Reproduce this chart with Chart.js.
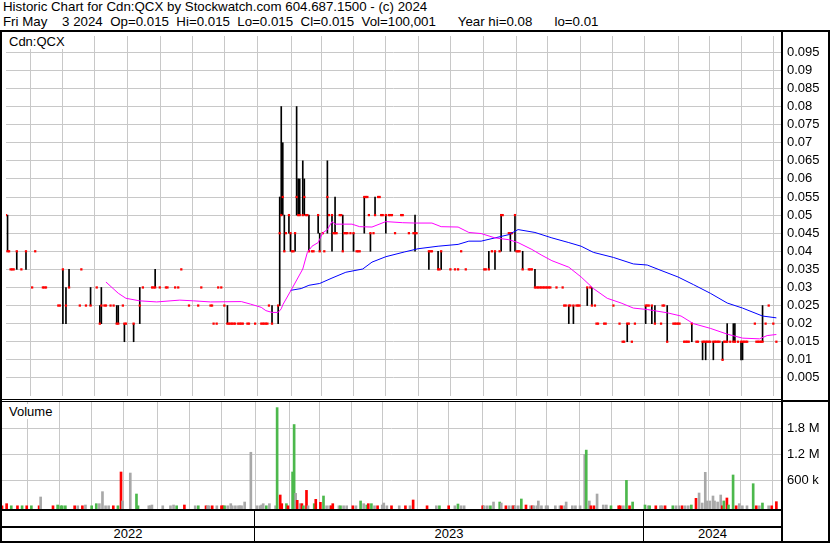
<!DOCTYPE html>
<html>
<head>
<meta charset="utf-8">
<script src="https://cdn.jsdelivr.net/npm/chart.js@4.4.1/dist/chart.umd.min.js"></script>
<style>
  body { margin: 0; background: #fff; }
  #wrap { position: relative; width: 830px; height: 543px; overflow: hidden;
          font-family: "Liberation Sans", Arial, sans-serif; font-size: 13px; color: #000; }
  .hdr { position: absolute; left: 3px; white-space: pre; line-height: 15px; font-size: 13.3px; }
  .ln { position: absolute; background: #000; }
  canvas { position: absolute; }
  .lbl { position: absolute; background: #fff; padding: 0 2px; line-height: 15px; }
  .yr { position: absolute; top: 527px; height: 14px; line-height: 14px; text-align: center; }
</style>
</head>
<body>
<div id="wrap">
  <div class="hdr" style="top:-1px">Historic Chart for Cdn:QCX by Stockwatch.com 604.687.1500 - (c) 2024</div>
  <div class="hdr" style="top:14px">Fri May    3 2024  Op=0.015  Hi=0.015  Lo=0.015  Cl=0.015  Vol=100,001      Year hi=0.08      lo=0.01</div>

  <canvas id="price" width="828" height="368" style="left:2px;top:32px"></canvas>
  <canvas id="volume" width="828" height="107" style="left:2px;top:402px"></canvas>

  <div class="lbl" style="left:7px;top:34px">Cdn:QCX</div>
  <div class="lbl" style="left:7px;top:404px">Volume</div>

  <div class="yr" id="y0" style="left:2px;width:252px"></div>
  <div class="yr" id="y1" style="left:255px;width:388px"></div>
  <div class="yr" id="y2" style="left:644px;width:137px"></div>

  <div class="ln" style="left:0;top:30px;width:830px;height:2px"></div>
  <div class="ln" style="left:0;top:30px;width:2px;height:513px"></div>
  <div class="ln" style="left:828px;top:30px;width:2px;height:513px"></div>
  <div class="ln" style="left:0;top:541px;width:830px;height:2px"></div>
  <div class="ln" style="left:781px;top:30px;width:2px;height:513px"></div>
  <div class="ln" style="left:0;top:399px;width:781px;height:1px"></div>
  <div class="ln" style="left:0;top:401px;width:781px;height:1px"></div>
  <div class="ln" style="left:781px;top:400px;width:49px;height:2px"></div>
  <div class="ln" style="left:0;top:509px;width:781px;height:2px"></div>
  <div class="ln" style="left:0;top:526px;width:781px;height:2px"></div>
  <div class="ln" style="left:254px;top:509px;width:1px;height:33px"></div>
  <div class="ln" style="left:643px;top:509px;width:1px;height:33px"></div>
</div>

<script>
// x values are trading-day numbers, day 0 = first session shown (May 2022)
const dayCount = 504
const monthTicks = [16.2, 36.9, 57.6, 78.9, 100.3, 121, 142.3, 163.7, 185.7, 205.1, 225.8, 246.5,
    268.5, 289.2, 310.6, 332, 352.1, 373.4, 394.6, 415.4, 437.4, 457.4, 478.1, 498.8]
const years = ["2022", "2023", "2024"]

const priceTicks = [0.005, 0.01, 0.015, 0.02, 0.025, 0.03, 0.035, 0.04, 0.045, 0.05,
    0.055, 0.06, 0.065, 0.07, 0.075, 0.08, 0.085, 0.09, 0.095]
const volTicks = [600000, 1200000, 1800000]
const volTickLabels = ["600 k", "1.2 M", "1.8 M"]

// [day, low, high]
const ranges = [
    [1, .04, .05], [7, .035, .04], [13, .035, .04], [37, .02, .035], [39, .02, .03], [41, .03, .035],
    [55, .025, .03], [61, .02, .025], [62, .02, .03], [72, .02, .025], [73, .02, .025], [77, .015, .02],
    [83, .015, .02], [87, .02, .03], [97, .03, .035], [144, .02, .025], [173, .02, .025], [177, .02, .025],
    [178, .025, .055], [179, .05, .08], [180, .05, .07], [181, .04, .05], [184, .045, .05], [185, .04, .045],
    [188, .04, .045], [189, .05, .08], [190, .05, .06], [191, .05, .06], [193, .05, .065], [194, .05, .06],
    [197, .04, .05], [203, .045, .05], [204, .04, .045], [209, .045, .065], [212, .04, .05], [214, .045, .055],
    [219, .04, .05], [226, .04, .045], [233, .045, .055], [237, .04, .045], [240, .05, .055], [247, .045, .05],
    [266, .04, .05], [275, .035, .04], [281, .035, .04], [283, .035, .04], [314, .035, .04], [318, .035, .04],
    [322, .04, .05], [328, .04, .045], [331, .04, .05], [336, .035, .04], [344, .03, .035], [366, .02, .025],
    [369, .02, .025], [378, .025, .03], [381, .025, .03], [404, .015, .02], [416, .02, .025], [420, .02, .025],
    [422, .02, .025], [430, .015, .025], [446, .015, .02], [453, .01, .015], [455, .01, .015], [460, .01, .015],
    [466, .01, .015], [469, .015, .02], [473, .015, .02], [474, .015, .02], [478, .01, .015], [479, .01, .015],
    [492, .015, .025]
]

// [day, close]
const closes = [
    [0, .05], [1, .04], [2, .04], [3, .035], [4, .035], [5, .035], [7, .04], [10, .035], [13, .04], [17, .03],
    [19, .04], [24, .03], [25, .03], [26, .03], [34, .025], [35, .025], [37, .035], [39, .025], [41, .03],
    [48, .025], [49, .035], [52, .025], [55, .025], [59, .03], [61, .02], [62, .025], [64, .025], [65, .025],
    [68, .025], [70, .025], [72, .02], [73, .02], [76, .025], [77, .02], [78, .02], [83, .02], [87, .025],
    [89, .03], [95, .03], [96, .03], [97, .03], [100, .03], [104, .03], [105, .03], [110, .03], [112, .03],
    [114, .035], [119, .025], [125, .025], [127, .03], [133, .025], [134, .025], [135, .02], [137, .02],
    [138, .03], [140, .03], [142, .025], [144, .02], [145, .02], [146, .02], [147, .02], [148, .02], [149, .02],
    [151, .02], [152, .02], [153, .02], [154, .02], [157, .02], [158, .02], [162, .02], [166, .02], [167, .02],
    [168, .02], [169, .02], [170, .02], [171, .025], [173, .02], [177, .025], [178, .045], [179, .05],
    [180, .055], [181, .04], [182, .045], [184, .05], [185, .045], [186, .04], [187, .04], [188, .045],
    [189, .055], [190, .05], [191, .05], [193, .05], [194, .055], [195, .05], [196, .05], [197, .04],
    [199, .04], [200, .04], [203, .05], [204, .04], [206, .045], [207, .04], [209, .055], [210, .05],
    [212, .05], [213, .045], [214, .045], [215, .045], [217, .05], [218, .05], [219, .04], [220, .045],
    [221, .045], [222, .045], [224, .045], [226, .045], [228, .04], [229, .04], [230, .04], [233, .055],
    [234, .055], [235, .055], [236, .05], [237, .045], [239, .045], [240, .05], [242, .055], [243, .055],
    [244, .05], [245, .05], [247, .05], [249, .05], [250, .05], [251, .05], [253, .045], [257, .05],
    [258, .05], [262, .045], [265, .045], [266, .045], [267, .045], [275, .04], [276, .04], [277, .04],
    [281, .035], [282, .035], [283, .04], [289, .035], [292, .035], [294, .035], [296, .04], [299, .035],
    [311, .035], [312, .035], [314, .035], [316, .04], [318, .04], [321, .04], [322, .05], [323, .05],
    [327, .045], [328, .045], [329, .045], [331, .05], [332, .04], [333, .04], [334, .04], [336, .035],
    [340, .035], [341, .035], [342, .035], [344, .03], [345, .03], [346, .03], [347, .03], [348, .03],
    [349, .03], [350, .03], [351, .03], [352, .03], [353, .03], [354, .03], [358, .03], [362, .03],
    [363, .025], [364, .025], [366, .025], [367, .025], [369, .025], [371, .025], [372, .025], [373, .025],
    [378, .03], [380, .03], [381, .025], [383, .025], [384, .02], [385, .02], [389, .02], [390, .02],
    [395, .025], [399, .02], [401, .015], [402, .015], [404, .02], [405, .02], [407, .015], [409, .02],
    [416, .025], [417, .025], [418, .025], [420, .025], [422, .02], [426, .02], [427, .025], [428, .025],
    [430, .015], [434, .02], [435, .02], [436, .02], [437, .02], [438, .02], [441, .015], [442, .015],
    [443, .015], [444, .015], [446, .02], [449, .015], [450, .015], [453, .015], [454, .015], [455, .015],
    [456, .015], [457, .015], [458, .015], [460, .015], [461, .015], [462, .015], [463, .015], [464, .015],
    [466, .01], [467, .015], [468, .015], [469, .015], [471, .015], [473, .015], [474, .015], [476, .015],
    [478, .015], [479, .015], [480, .015], [481, .015], [482, .015], [487, .02], [488, .015], [489, .015],
    [490, .015], [491, .015], [492, .015], [494, .02], [496, .025], [499, .02], [501, .015]
]

// moving averages, [day, value]
const maShort = [
    [65, .0315], [73, .0284], [78, .027], [87, .0263], [98, .026], [113, .0265], [122, .0263], [133, .026],
    [153, .0261], [159, .0254], [166, .0245], [169, .0236], [173, .0231], [177, .0231], [179, .0241],
    [180, .0252], [186, .0297], [193, .0351], [196, .0397], [199, .0414], [203, .0424], [206, .0451],
    [209, .046], [212, .0482], [214, .0475], [225, .0475], [230, .0468], [238, .0467], [247, .0482],
    [258, .0479], [266, .0478], [277, .0478], [283, .0468], [294, .0467], [301, .0452], [309, .0449],
    [318, .0437], [327, .0432], [333, .0424], [342, .0405], [348, .039], [355, .0374], [366, .0356],
    [374, .0329], [382, .0297], [391, .027], [400, .0257], [408, .0243], [417, .0239], [430, .023],
    [439, .0221], [447, .02], [458, .0187], [469, .0171], [479, .016], [490, .0158], [495, .0167],
    [501, .017]
]
const maLong = [
    [185, .0292], [192, .0297], [197, .0306], [204, .0311], [212, .0326], [221, .0342], [232, .0351],
    [238, .037], [247, .0385], [259, .0398], [268, .0407], [281, .0414], [294, .0419], [301, .0428],
    [309, .0428], [318, .0437], [327, .0446], [333, .046], [344, .0452], [355, .0437], [366, .0424],
    [374, .0414], [382, .0397], [395, .0383], [408, .0365], [417, .0362], [426, .0347], [437, .0329],
    [447, .0308], [458, .0284], [469, .0257], [479, .0243], [492, .0221], [501, .0216]
]

// [day, shares, u = up / d = down / n = unchanged]
const volumes = [
    [0, 5000, "d"], [3, 54000, "d"], [6, 5000, "u"], [10, 5000, "d"], [13, 5000, "u"], [16, 5000, "d"],
    [19, 5000, "u"], [24, 5000, "d"], [25, 208000, "n"], [33, 5000, "d"], [36, 23000, "u"], [38, 5000, "u"],
    [39, 5000, "u"], [41, 5000, "u"], [47, 5000, "d"], [49, 5000, "n"], [52, 5000, "d"], [54, 23000, "n"],
    [58, 5000, "u"], [61, 54000, "u"], [63, 54000, "n"], [65, 331000, "n"], [67, 5000, "n"], [69, 5000, "n"],
    [72, 5000, "d"], [75, 5000, "u"], [77, 785000, "d"], [78, 116000, "n"], [83, 761000, "n"], [87, 277000, "u"],
    [88, 5000, "u"], [95, 5000, "n"], [96, 5000, "n"], [97, 23000, "n"], [104, 5000, "n"], [109, 5000, "n"],
    [111, 23000, "n"], [113, 5000, "u"], [118, 23000, "d"], [125, 5000, "n"], [127, 5000, "u"], [132, 5000, "d"],
    [133, 5000, "n"], [134, 5000, "n"], [136, 5000, "d"], [139, 5000, "n"], [142, 5000, "d"], [143, 5000, "d"],
    [144, 5000, "u"], [146, 5000, "n"], [148, 54000, "n"], [149, 5000, "n"], [151, 5000, "n"], [153, 5000, "n"],
    [154, 5000, "n"], [155, 5000, "n"], [157, 92000, "n"], [161, 1240000, "n"], [165, 5000, "n"], [167, 5000, "n"],
    [168, 23000, "n"], [169, 54000, "n"], [171, 5000, "u"], [173, 54000, "n"], [177, 5000, "n"], [178, 2270000, "u"],
    [180, 254000, "d"], [181, 54000, "d"], [184, 54000, "u"], [185, 5000, "d"], [188, 785000, "u"], [189, 1880000, "u"],
    [190, 292000, "n"], [191, 131000, "d"], [193, 54000, "n"], [194, 54000, "d"], [195, 5000, "u"], [197, 361000, "d"],
    [198, 5000, "n"], [202, 54000, "u"], [203, 154000, "d"], [206, 85000, "d"], [208, 231000, "u"], [210, 5000, "n"],
    [212, 5000, "n"], [213, 5000, "d"], [214, 54000, "d"], [218, 5000, "n"], [219, 5000, "u"], [221, 5000, "n"],
    [223, 5000, "n"], [227, 5000, "d"], [229, 5000, "n"], [232, 116000, "u"], [234, 54000, "n"], [236, 23000, "u"],
    [237, 54000, "d"], [239, 54000, "u"], [241, 5000, "n"], [243, 5000, "d"], [246, 23000, "n"], [247, 69000, "n"],
    [249, 5000, "n"], [252, 5000, "d"], [257, 5000, "n"], [261, 5000, "d"], [264, 5000, "n"], [266, 139000, "d"],
    [275, 5000, "d"], [281, 5000, "n"], [283, 5000, "u"], [289, 5000, "d"], [293, 5000, "n"], [295, 46000, "u"],
    [297, 5000, "n"], [299, 5000, "n"], [311, 5000, "d"], [312, 5000, "n"], [314, 5000, "n"], [316, 5000, "u"],
    [318, 92000, "n"], [322, 92000, "u"], [323, 69000, "n"], [326, 5000, "d"], [328, 5000, "n"], [330, 5000, "n"],
    [331, 5000, "d"], [332, 5000, "n"], [334, 5000, "n"], [336, 162000, "u"], [339, 23000, "d"], [342, 5000, "n"],
    [343, 5000, "d"], [344, 5000, "n"], [346, 5000, "n"], [347, 116000, "n"], [349, 5000, "n"], [352, 5000, "n"],
    [353, 5000, "n"], [358, 5000, "n"], [361, 5000, "n"], [362, 5000, "d"], [364, 5000, "n"], [365, 92000, "n"],
    [369, 5000, "n"], [371, 5000, "n"], [374, 5000, "n"], [377, 1190000, "n"], [378, 1290000, "u"], [380, 116000, "n"],
    [381, 5000, "d"], [383, 5000, "d"], [385, 277000, "n"], [389, 23000, "n"], [391, 23000, "n"], [394, 5000, "u"],
    [399, 5000, "d"], [400, 5000, "d"], [402, 5000, "n"], [404, 592000, "u"], [406, 5000, "d"], [408, 92000, "u"],
    [416, 23000, "u"], [418, 5000, "n"], [419, 5000, "u"], [423, 5000, "d"], [426, 5000, "n"], [427, 5000, "n"],
    [429, 5000, "d"], [434, 5000, "u"], [436, 5000, "n"], [438, 5000, "n"], [440, 5000, "d"], [442, 5000, "n"],
    [444, 5000, "n"], [446, 23000, "u"], [449, 177000, "d"], [451, 300000, "n"], [453, 69000, "n"], [455, 777000, "n"],
    [456, 116000, "n"], [458, 116000, "n"], [460, 231000, "n"], [461, 116000, "n"], [463, 92000, "n"], [465, 254000, "n"],
    [466, 5000, "d"], [467, 116000, "u"], [469, 185000, "d"], [470, 23000, "u"], [473, 716000, "u"], [475, 5000, "d"],
    [477, 54000, "n"], [479, 5000, "n"], [482, 5000, "n"], [486, 515000, "u"], [488, 5000, "d"], [490, 5000, "n"],
    [492, 69000, "u"], [496, 5000, "n"], [498, 5000, "d"], [501, 100001, "d"]
]

const volMin = -69000
const volMax = 2400000
const dirColor = { u: "#4cb84c", d: "#ff0000", n: "#a8a8a8" }

years.forEach((y, i) => { document.getElementById("y" + i).textContent = y })

const gridColor = "#c8c8c8"
const tickFont = { family: "Liberation Sans", size: 13 }

const xAxis = () => ({
    type: "linear",
    min: 0,
    max: dayCount,
    offset: false,
    grid: { color: gridColor, offset: false, drawTicks: false },
    border: { display: false },
    ticks: { display: false },
    afterBuildTicks: (s) => { s.ticks = monthTicks.map(v => ({ value: v })) },
    afterFit: (s) => { s.height = 0; s.paddingLeft = 0; s.paddingRight = 0 }
})

const baseOptions = {
    responsive: false,
    animation: false,
    devicePixelRatio: 1,
    layout: { padding: 0 },
    plugins: { legend: { display: false }, tooltip: { enabled: false } },
}

new Chart(document.getElementById("price"), {
    type: "bar",
    data: {
        datasets: [
            {
                type: "line", order: 0,
                data: maShort.map(p => ({ x: p[0], y: p[1] })),
                borderColor: "#ff00ff", borderWidth: 1, pointRadius: 0, tension: 0
            },
            {
                type: "line", order: 0,
                data: maLong.map(p => ({ x: p[0], y: p[1] })),
                borderColor: "#0000ff", borderWidth: 1, pointRadius: 0, tension: 0
            },
            {
                type: "line", order: 1, showLine: false,
                data: closes.map(p => ({ x: p[0], y: p[1] })),
                pointStyle: "rect", pointRadius: 1.6, pointBorderWidth: 0,
                pointBackgroundColor: "#ff0000", borderColor: "#ff0000"
            },
            {
                type: "bar", order: 2,
                data: ranges.map(r => ({ x: r[0], y: [r[1], r[2]] })),
                backgroundColor: "#000", barThickness: 1
            }
        ]
    },
    options: {
        ...baseOptions,
        scales: {
            x: xAxis(),
            y: {
                position: "right",
                min: 0,
                max: 0.0995,
                grid: { color: gridColor, drawTicks: false },
                border: { display: false },
                ticks: { padding: 6, color: "#000", font: tickFont, callback: (v) => String(v) },
                afterBuildTicks: (s) => { s.ticks = priceTicks.map(v => ({ value: v })) },
                afterFit: (s) => { s.width = 49; s.paddingTop = 0; s.paddingBottom = 0 }
            }
        }
    }
});

new Chart(document.getElementById("volume"), {
    type: "bar",
    data: {
        datasets: [{
            data: volumes.map(v => ({ x: v[0], y: v[1] })),
            backgroundColor: volumes.map(v => dirColor[v[2]]),
            barThickness: 2,
            base: volMin
        }]
    },
    options: {
        ...baseOptions,
        scales: {
            x: xAxis(),
            y: {
                position: "right",
                min: volMin,
                max: volMax,
                grid: { color: gridColor, drawTicks: false },
                border: { display: false },
                ticks: {
                    padding: 6, color: "#000", font: tickFont,
                    callback: (v) => volTickLabels[volTicks.indexOf(v)]
                },
                afterBuildTicks: (s) => { s.ticks = volTicks.map(v => ({ value: v })) },
                afterFit: (s) => { s.width = 49; s.paddingTop = 0; s.paddingBottom = 0 }
            }
        }
    }
});
</script>
</body>
</html>
